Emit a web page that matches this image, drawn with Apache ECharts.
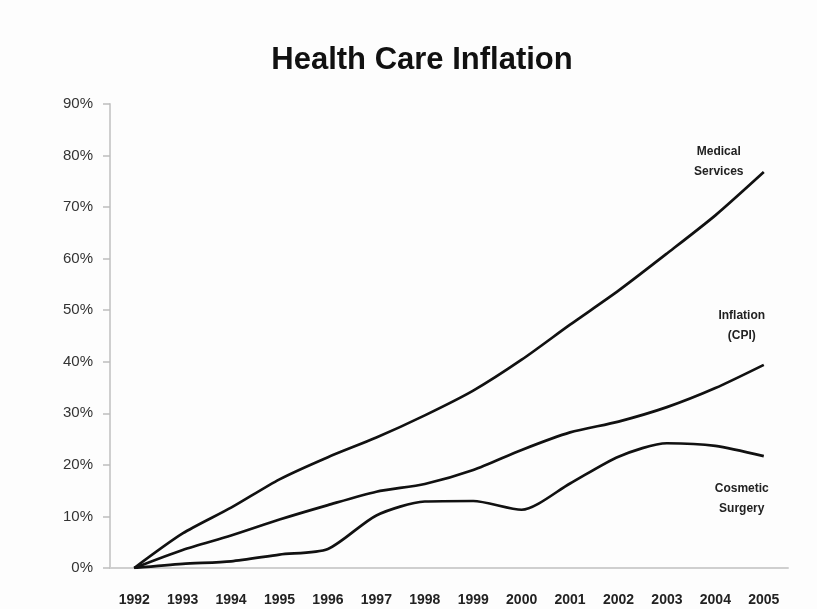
<!DOCTYPE html>
<html>
<head>
<meta charset="utf-8">
<script src="https://cdn.jsdelivr.net/npm/echarts@6/dist/echarts.min.js"></script>
<style>
  html, body { margin: 0; padding: 0; background: #fdfdfd; }
  #chart { width: 817px; height: 609px; }
</style>
</head>
<body>
<div id="chart"></div>
<script>
// Cumulative price growth since 1992, in percent
const years = ['1992','1993','1994','1995','1996','1997','1998','1999','2000','2001','2002','2003','2004','2005'];
const medicalServices = [0, 6.7, 11.7, 17.2, 21.5, 25.3, 29.6, 34.4, 40.4, 47.2, 53.8, 61.0, 68.4, 76.8];
const inflationCPI    = [0, 3.5, 6.3, 9.4, 12.2, 14.8, 16.3, 19.0, 22.9, 26.3, 28.4, 31.2, 34.9, 39.4];
const cosmeticSurgery = [0, 0.8, 1.3, 2.6, 3.7, 10.2, 12.9, 13.0, 11.3, 16.4, 21.6, 24.2, 23.7, 21.7];
const yTicks = [0, 10, 20, 30, 40, 50, 60, 70, 80, 90];

const seriesNames = ['Medical\nServices', 'Inflation\n(CPI)', 'Cosmetic\nSurgery'];
const seriesData = [medicalServices, inflationCPI, cosmeticSurgery];

const chart = echarts.init(document.getElementById('chart'));

const lineSeries = seriesData.map((d, i) => ({
  type: 'line',
  name: seriesNames[i],
  data: d,
  smooth: 0.25,
  showSymbol: false,
  symbol: 'none',
  lineStyle: { color: '#111', width: 2.7 },
  silent: true
}));

chart.setOption({
  backgroundColor: '#fdfdfd',
  animation: false,
  title: {
    text: 'Health Care Inflation',
    left: 417,
    top: 40,
    textAlign: 'center',
    textStyle: { fontFamily: 'Liberation Sans, Arial, sans-serif', fontSize: 31, fontWeight: 'bold', color: '#111' }
  },
  grid: { left: 110, right: 29, top: 104, bottom: 41 },
  xAxis: {
    type: 'category',
    data: years,
    boundaryGap: true,
    axisLine: { lineStyle: { color: '#cfcfcf', width: 2 } },
    axisTick: { show: false },
    axisLabel: {
      margin: 25,
      fontFamily: 'Liberation Sans, Arial, sans-serif',
      fontSize: 14,
      fontWeight: 'bold',
      color: '#222'
    }
  },
  yAxis: {
    type: 'value',
    min: yTicks[0],
    max: yTicks[yTicks.length - 1],
    interval: 10,
    splitLine: { show: false },
    axisLine: { show: true, lineStyle: { color: '#cfcfcf', width: 2 } },
    axisTick: { show: true, length: 7, lineStyle: { color: '#bdbdbd', width: 1.5 } },
    axisLabel: {
      margin: 17,
      formatter: v => v + '%',
      fontFamily: 'Liberation Sans, Arial, sans-serif',
      fontSize: 15,
      color: '#333'
    }
  },
  series: lineSeries
});

// Series names placed next to each line's final point
const labelOffsets = [[-45, -10], [-22, -39], [-22, 43]];
const graphics = seriesData.map((d, i) => {
  const p = chart.convertToPixel({ gridIndex: 0 }, [years.length - 1, d[d.length - 1]]);
  return {
    type: 'text',
    x: p[0] + labelOffsets[i][0],
    y: p[1] + labelOffsets[i][1],
    style: {
      text: seriesNames[i],
      align: 'center',
      verticalAlign: 'middle',
      lineHeight: 20,
      font: 'bold 12px "Liberation Sans", Arial, sans-serif',
      fill: '#222'
    }
  };
});
chart.setOption({ graphic: graphics });
</script>
</body>
</html>
